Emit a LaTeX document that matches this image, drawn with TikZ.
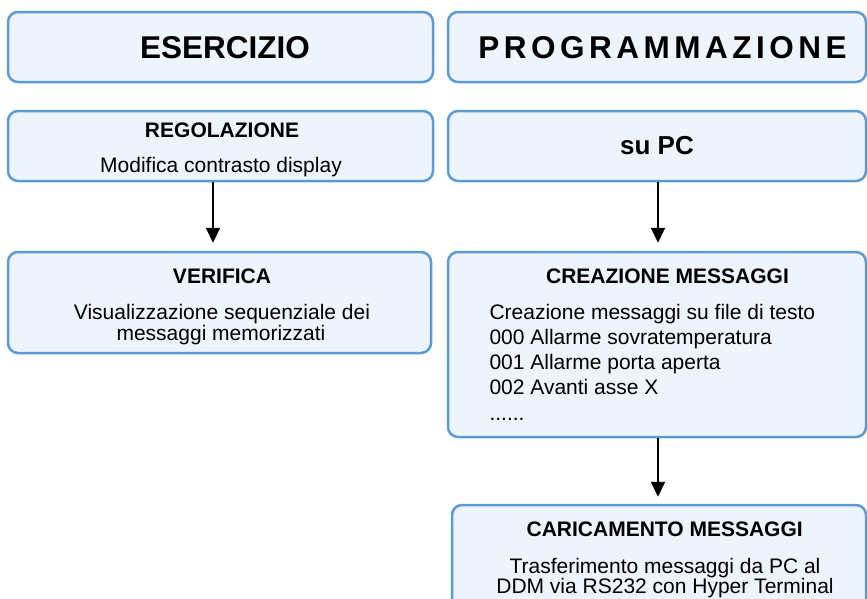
\documentclass[tikz,border=0pt]{standalone}
\usepackage{fontspec}
\setmainfont{Liberation Sans}
\usetikzlibrary{arrows.meta}
\definecolor{bordo}{HTML}{5B9BD5}
\definecolor{riemp}{HTML}{EEF4FB}
\tikzset{
  box/.style={draw=bordo, fill=riemp, line width=2.5pt, rounded corners=10pt, rectangle, inner sep=0pt},
  big/.style={font=\fontsize{31.5}{36}\selectfont\bfseries, anchor=base, inner sep=0pt},
  ttl/.style={font=\fontsize{21}{25}\selectfont\bfseries, anchor=base, inner sep=0pt},
  txt/.style={font=\fontsize{21}{25}\selectfont, anchor=base, inner sep=0pt},
  txl/.style={font=\fontsize{21}{25}\selectfont, anchor=base west, inner sep=0pt},
  arr/.style={line width=2pt, -{Triangle[length=15pt,width=14pt]}}
}
\newcommand{\ks}{\kern4.5pt}
\begin{document}
\begin{tikzpicture}[x=1pt,y=-1pt]
\useasboundingbox (0,0) rectangle (867,598);
\clip (0,0) rectangle (867,598);
% boxes
\node[box, minimum width=425pt, minimum height=70pt] (eserc) at (220.5,47) {};
\node[box, minimum width=418pt, minimum height=70pt] (progr) at (657,47) {};
\node[box, minimum width=425pt, minimum height=70pt] (regol) at (220.5,146) {};
\node[box, minimum width=418pt, minimum height=70pt] (supc) at (657,146) {};
\node[box, minimum width=423pt, minimum height=101pt] (verif) at (219.5,302.5) {};
\node[box, minimum width=418pt, minimum height=185pt] (creaz) at (657,344.5) {};
\node[box, minimum width=414pt, minimum height=120pt] (caric) at (659,565) {};
% texts
\node[big] (tEserc) at (225,58) {ESERCIZIO};
\node[big] (tProgr) at (662.5,58) {P\ks R\ks O\ks G\ks R\ks A\ks M\ks M\ks A\ks Z\ks I\ks O\ks N\ks E};
\node[ttl] (tRegol) at (222,137) {REGOLAZIONE};
\node[txt] (tRegol1) at (221,172) {Modifica contrasto display};
\node[font=\fontsize{26}{30}\selectfont\bfseries, anchor=base, inner sep=0pt] (tSupc) at (657,154) {su PC};
\node[ttl] (tVerif) at (222,283) {VERIFICA};
\node[txt] (tVerif1) at (222,319) {Visualizzazione sequenziale dei};
\node[txt] (tVerif2) at (221,340) {messaggi memorizzati};
\node[ttl] (tCreaz) at (667.5,283) {CREAZIONE MESSAGGI};
\node[txl] (tCreaz1) at (489.3,319) {Creazione messaggi su file di testo};
\node[txl] (tCreaz2) at (489.3,344) {000 Allarme sovratemperatura};
\node[txl] (tCreaz3) at (489.3,369) {001 Allarme porta aperta};
\node[txl] (tCreaz4) at (489.3,394) {002 Avanti asse X};
\node[txl] (tCreaz5) at (489.3,420) {......};
\node[ttl] (tCaric) at (664.7,536) {CARICAMENTO MESSAGGI};
\node[txt] (tCaric1) at (665,573) {Trasferimento messaggi da PC al};
\node[txt] (tCaric2) at (665,593) {DDM via RS232 con Hyper Terminal};
% arrows
\draw[arr, shorten >=8pt] (213,0 |- regol.south) -- (213,0 |- verif.north);
\draw[arr, shorten >=8pt] (658,0 |- supc.south) -- (658,0 |- creaz.north);
\draw[arr, shorten >=7pt] (658,0 |- creaz.south) -- (658,0 |- caric.north);
\end{tikzpicture}
\end{document}
